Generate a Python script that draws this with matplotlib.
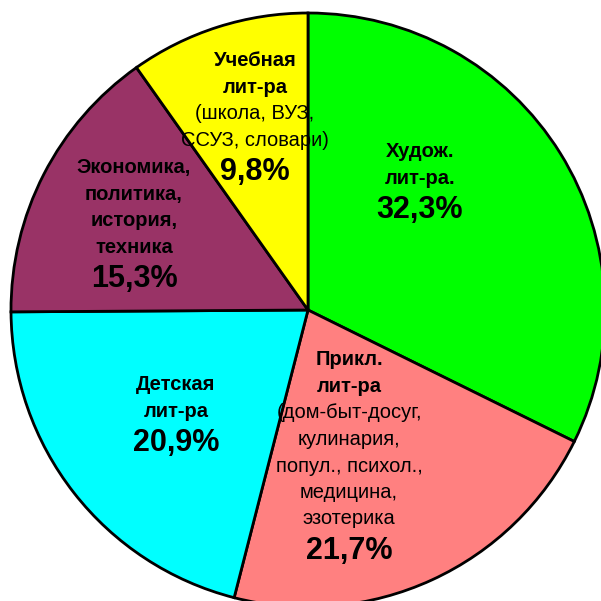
import matplotlib.pyplot as plt

plt.rcParams['font.family'] = ['Liberation Sans', 'DejaVu Sans']

# data
shares = [32.3, 21.7, 20.9, 15.3, 9.8]
colors = ['#00FF00', '#FF8080', '#00FFFF', '#993366', '#FFFF00']
pct_text = ['32,3%', '21,7%', '20,9%', '15,3%', '9,8%']
bold_lines = [
    ['Худож.', 'лит-ра.'],
    ['Прикл.', 'лит-ра'],
    ['Детская', 'лит-ра'],
    ['Экономика,', 'политика,', 'история,', 'техника'],
    ['Учебная', 'лит-ра'],
]
plain_lines = [
    [],
    ['(дом-быт-досуг,', 'кулинария,', 'попул., психол.,', 'медицина,', 'эзотерика'],
    [],
    [],
    ['(школа, ВУЗ,', 'ССУЗ, словари)'],
]

# label anchors (pixel position of first line centre) - layout only
label_px = [(420, 152), (349, 360), (176, 385), (134, 168), (255, 61)]

W = H = 601
cx, cy, R = 308, 310, 297

fig = plt.figure(figsize=(6.01, 6.01), dpi=100)
ax = fig.add_axes([0, 0, 1, 1])
ax.pie(shares, colors=colors, startangle=90, counterclock=False, radius=1,
       wedgeprops=dict(edgecolor='black', linewidth=2))
ax.set_xlim(-cx / R, (W - cx) / R)
ax.set_ylim(-(H - cy) / R, cy / R)
ax.set_aspect('equal')
ax.axis('off')


def to_data(px, py):
    return (px - cx) / R, (cy - py) / R


for i in range(len(shares)):
    px, py = label_px[i]
    y = py
    for t in bold_lines[i]:
        ax.text(*to_data(px, y), t, ha='center', va='center', fontsize=14.5,
                fontweight='bold')
        y += 26.5
    for t in plain_lines[i]:
        ax.text(*to_data(px, y), t, ha='center', va='center', fontsize=14.5)
        y += 26.5
    y += 5
    ax.text(*to_data(px, y), pct_text[i], ha='center', va='center',
            fontsize=22, fontweight='bold')

fig.savefig('out.png', dpi=100)
